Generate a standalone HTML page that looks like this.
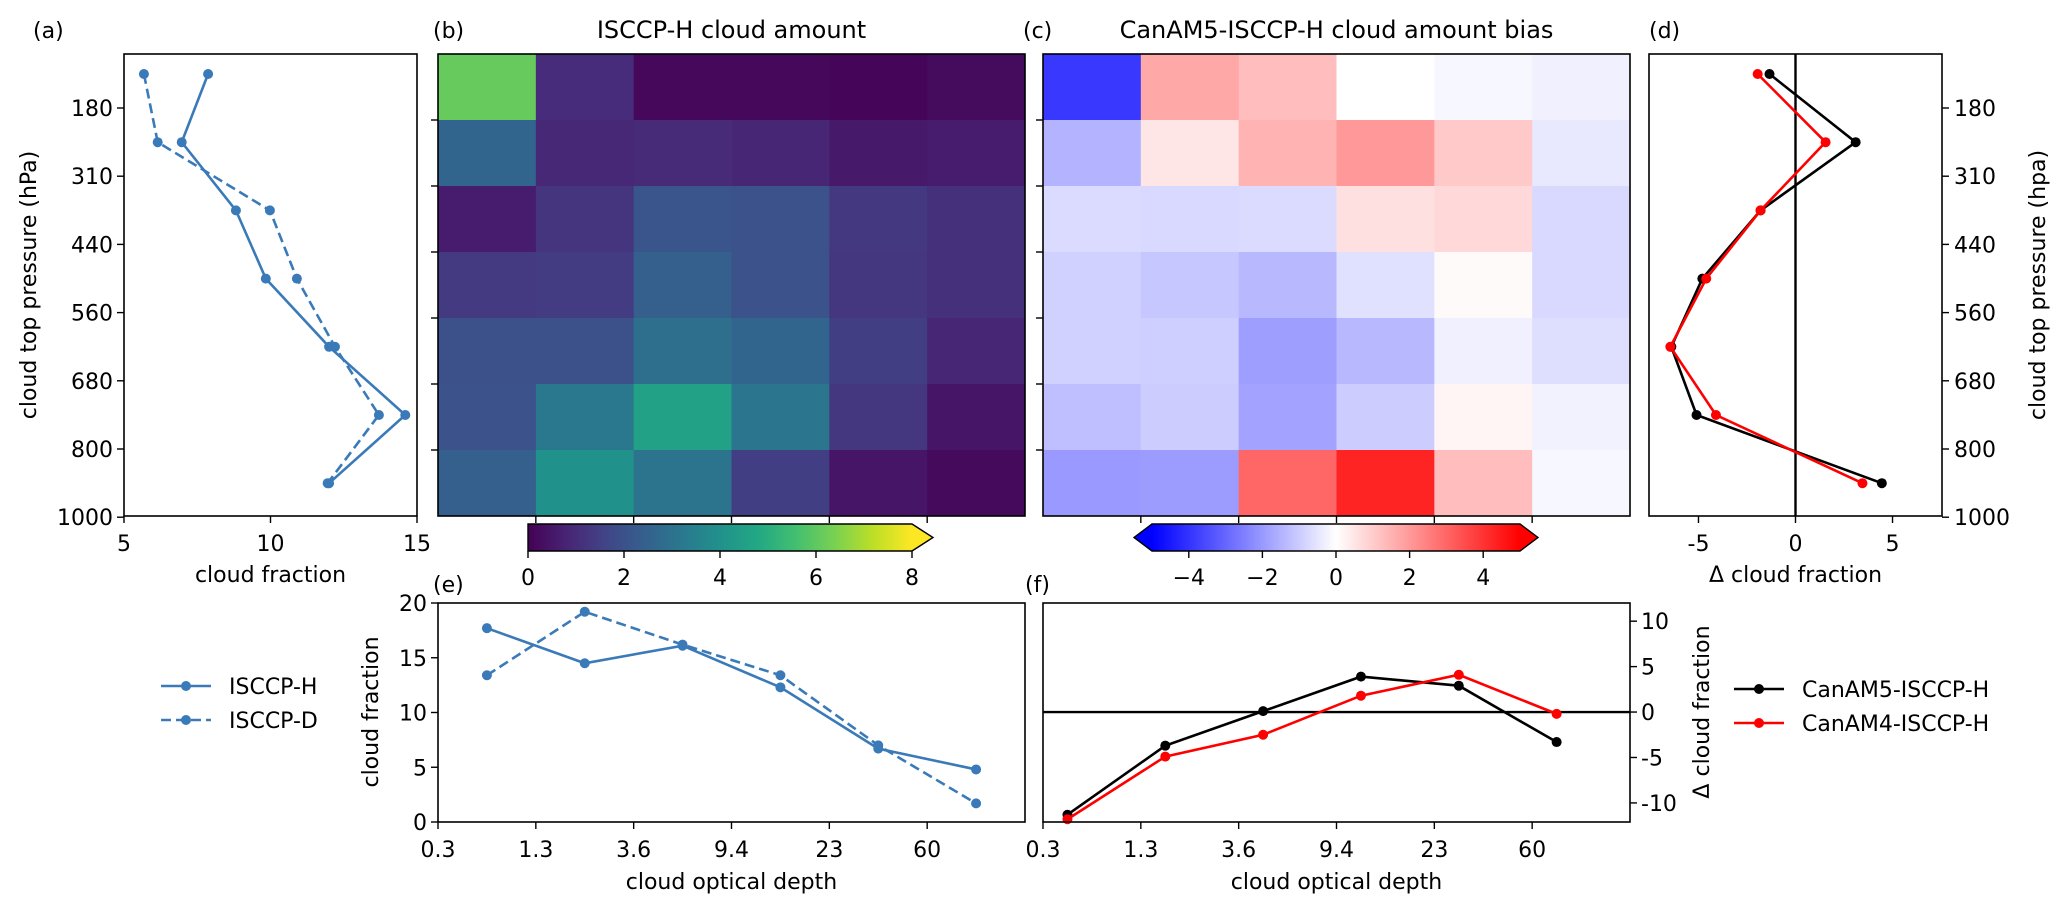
<!DOCTYPE html>
<html><head><meta charset="utf-8">
<style>
html,body{margin:0;padding:0;background:#fff;}
svg{display:block;font-family:"DejaVu Sans","Liberation Sans",sans-serif;}
text{fill:#000;}
</style></head>
<body>
<svg id="fig" width="2067" height="906" viewBox="0 0 2067 906" xmlns="http://www.w3.org/2000/svg">
<defs>
<linearGradient id="gViridis" x1="0" x2="1" y1="0" y2="0">
<stop offset="0" stop-color="#440154"/><stop offset="0.1" stop-color="#482475"/><stop offset="0.2" stop-color="#414487"/><stop offset="0.3" stop-color="#355f8d"/><stop offset="0.4" stop-color="#2a788e"/><stop offset="0.5" stop-color="#21918c"/><stop offset="0.6" stop-color="#22a884"/><stop offset="0.7" stop-color="#44bf70"/><stop offset="0.8" stop-color="#7ad151"/><stop offset="0.9" stop-color="#bddf26"/><stop offset="1" stop-color="#fde725"/>
</linearGradient>
<linearGradient id="gBwr" x1="0" x2="1" y1="0" y2="0">
<stop offset="0" stop-color="#0000ff"/><stop offset="0.5" stop-color="#ffffff"/><stop offset="1" stop-color="#ff0000"/>
</linearGradient>
</defs>
</svg>
<script>
// ---- data ----
const pressureTicks = ["180","310","440","560","680","800","1000"];
const tauTicks = ["0.3","1.3","3.6","9.4","23","60"];
const isccpH_profile = [7.87, 6.97, 8.82, 9.84, 12.0, 14.6, 12.0];
const isccpD_profile = [5.68, 6.15, 9.98, 10.9, 12.2, 13.7, 11.95];
const canam5_profile = [-1.34, 3.1, -1.8, -4.8, -6.4, -5.1, 4.45];
const canam4_profile = [-1.95, 1.55, -1.8, -4.6, -6.45, -4.1, 3.45];
const isccpH_tau = [17.7, 14.5, 16.1, 12.3, 6.7, 4.8];
const isccpD_tau = [13.4, 19.2, 16.2, 13.4, 7.0, 1.7];
const canam5_tau = [-11.3, -3.7, 0.1, 3.9, 2.9, -3.3];
const canam4_tau = [-11.8, -4.9, -2.5, 1.8, 4.1, -0.2];
const amountGrid = [
 [6.1, 1.0, 0.15, 0.15, 0.1, 0.25],
 [2.6, 0.9, 0.95, 0.85, 0.55, 0.6],
 [0.6, 1.2, 2.1, 2.0, 1.3, 1.1],
 [1.35, 1.4, 2.4, 2.0, 1.25, 1.1],
 [1.95, 1.95, 2.9, 2.6, 1.45, 0.85],
 [2.0, 3.2, 4.55, 3.1, 1.25, 0.45],
 [2.4, 4.0, 3.05, 1.45, 0.45, 0.2]
];
const biasGrid = [
 [-3.9, 1.7, 1.3, 0.0, -0.15, -0.3],
 [-1.5, 0.5, 1.5, 2.0, 1.05, -0.45],
 [-0.7, -0.75, -0.7, 0.6, 0.75, -0.75],
 [-0.9, -1.1, -1.4, -0.6, 0.1, -0.75],
 [-0.9, -0.95, -1.9, -1.4, -0.3, -0.65],
 [-1.25, -1.0, -1.8, -1.0, 0.2, -0.25],
 [-2.0, -1.95, 3.0, 4.3, 1.3, -0.15]
];
const viridisTicks = [0,2,4,6,8];
const bwrTicks = [-4,-2,0,2,4];
const fracTicksA = [5,10,15];
const deltaTicksD = [-5,0,5];
const fracTicksE = [0,5,10,15,20];
const deltaTicksF = [-10,-5,0,5,10];

// ---- helpers ----
const NS = "http://www.w3.org/2000/svg";
const svg = document.getElementById('fig');
function mk(tag, attrs, parent){const e=document.createElementNS(NS,tag);for(const k in attrs)e.setAttribute(k,attrs[k]);(parent||svg).appendChild(e);return e;}
function txt(s, x, y, attrs, parent){const e=mk('text',Object.assign({x:x,y:y,'font-size':22},attrs||{}),parent);e.textContent=s;return e;}
const VIR=["#440154","#482475","#414487","#355f8d","#2a788e","#21918c","#22a884","#44bf70","#7ad151","#bddf26","#fde725"];
function hex(c){return [parseInt(c.substr(1,2),16),parseInt(c.substr(3,2),16),parseInt(c.substr(5,2),16)];}
function viridis(t){t=Math.max(0,Math.min(1,t));const f=t*10,i=Math.min(9,Math.floor(f)),r=f-i;const a=hex(VIR[i]),b=hex(VIR[i+1]);return 'rgb('+a.map((v,k)=>Math.round(v+(b[k]-v)*r)).join(',')+')';}
function bwr(v){v=Math.max(-5,Math.min(5,v));let r,g,b;if(v<0){r=g=1+v/5;b=1;}else{r=1;g=b=1-v/5;}return 'rgb('+[r,g,b].map(x=>Math.round(x*255)).join(',')+')';}

const BLUE="#3a7ab8";
// layout
const TOP=54, BOT=516;
const A={l:124,r:417}, D={l:1649,r:1942}, B={l:438,r:1025}, C={l:1043,r:1630};
const E={t:603,b:822,l:438,r:1025}, F={t:603,b:822,l:1043,r:1630};
const rowH=(BOT-TOP)/7;
// profile y: categorical, tick k at 108+68.2k, points at midpoints
function yProf(i){return 108+68.2*i-34;}
function yTickProf(k){return 108+68.2*k;}
function xA(v){return A.l+(v-5)/10*(A.r-A.l);}
function xD(v){return D.l+(v+7.55)/15.1*(D.r-D.l);}
const colW=(B.r-B.l)/6;
function xE(i){return E.l+(i+0.5)*colW;}
function yE(v){return E.b-(v/20)*(E.b-E.t);}
function xF(i){return F.l+(i+0.25)*colW;}
function yF(v){return F.b-((v+12.1)/24.1)*(F.b-F.t);}

function frame(l,t,r,b,name){const e=mk('rect',{x:l,y:t,width:r-l,height:b-t,fill:'none',stroke:'#000','stroke-width':1.6});return e;}
function series(pts,color,dash,name){
  const g=mk('g',{});
  
  
  const p=mk('polyline',{points:pts.map(p=>p.join(',')).join(' '),fill:'none',stroke:color,'stroke-width':2.6,'stroke-dasharray':dash?'10,5':'none'},g);
  
  
  pts.forEach(q=>{const c=mk('circle',{cx:q[0],cy:q[1],r:5,fill:color},g);});
}
function label(s,x,y,name,attrs){const e=txt(s,x,y,attrs);return e;}

// ---- panel a ----
label('(a)',33,38,'panel-a-label');
for(let k=0;k<pressureTicks.length;k++){const y=yTickProf(k);mk('line',{x1:A.l-7,x2:A.l,y1:y,y2:y,stroke:'#000','stroke-width':1.4});const t=label(pressureTicks[k],A.l-11,y+8,'a-ytick-label',{'text-anchor':'end'});}
fracTicksA.forEach(v=>{const x=xA(v);mk('line',{x1:x,x2:x,y1:BOT,y2:BOT+7,stroke:'#000','stroke-width':1.4});label(String(v),x,551,'a-xtick-label',{'text-anchor':'middle'});});
label('cloud fraction',(A.l+A.r)/2,582,'a-x-axis-title',{'text-anchor':'middle'});
label('cloud top pressure (hPa)',0,0,'a-y-axis-title',{'text-anchor':'middle',transform:'translate(36,285) rotate(-90)'});
series(isccpH_profile.map((v,i)=>[xA(v),yProf(i)]),BLUE,false,'isccp-h-profile');
series(isccpD_profile.map((v,i)=>[xA(v),yProf(i)]),BLUE,true,'isccp-d-profile');
frame(A.l,TOP,A.r,BOT,'panel-a-axes');

// ---- heatmaps ----
function heat(P,grid,colorFn,name){
  for(let r=0;r<7;r++)for(let c=0;c<6;c++){
    const e=mk('rect',{x:P.l+c*colW,y:TOP+r*rowH,width:colW+0.5,height:rowH+0.5,fill:colorFn(grid[r][c])});
    
    
  }
  for(let k=1;k<7;k++){const y=TOP+k*rowH;mk('line',{x1:P.l-7,x2:P.l,y1:y,y2:y,stroke:'#000','stroke-width':1.4});}
  for(let k=1;k<6;k++){const x=P.l+k*colW;mk('line',{x1:x,x2:x,y1:BOT,y2:BOT+7,stroke:'#000','stroke-width':1.4});}
  frame(P.l,TOP,P.r,BOT,name+'-axes');
}
label('(b)',433,38,'panel-b-label');
label('ISCCP-H cloud amount',(B.l+B.r)/2,38,'panel-b-title',{'text-anchor':'middle','font-size':24});
heat(B,amountGrid,v=>viridis(v/8),'amount-heatmap');
label('(c)',1023,38,'panel-c-label');
label('CanAM5-ISCCP-H cloud amount bias',(C.l+C.r)/2,38,'panel-c-title',{'text-anchor':'middle','font-size':24});
heat(C,biasGrid,bwr,'bias-heatmap');

// colorbars
(function(){
  const l=528,r=912,t=524,b=551;
  const g=mk('g',{});
  mk('rect',{x:l,y:t,width:r-l,height:b-t,fill:'url(#gViridis)'},g);
  mk('polygon',{points:`${r},${t} ${r+21},${(t+b)/2} ${r},${b}`,fill:'#fde725'},g);
  mk('polygon',{points:`${l},${t} ${r},${t} ${r+21},${(t+b)/2} ${r},${b} ${l},${b}`,fill:'none',stroke:'#000','stroke-width':1.4},g);
  viridisTicks.forEach(v=>{const x=l+v/8*(r-l);mk('line',{x1:x,x2:x,y1:b,y2:b+7,stroke:'#000','stroke-width':1.4},g);label(String(v),x,585,'viridis-tick-label',{'text-anchor':'middle'});});
})();
(function(){
  const l=1152,r=1520,t=524,b=551,m=(t+b)/2;
  const g=mk('g',{});
  mk('rect',{x:l,y:t,width:r-l,height:b-t,fill:'url(#gBwr)'},g);
  mk('polygon',{points:`${l},${t} ${l-18},${m} ${l},${b}`,fill:'#0000ff'},g);
  mk('polygon',{points:`${r},${t} ${r+18},${m} ${r},${b}`,fill:'#ff0000'},g);
  mk('polygon',{points:`${l},${t} ${r},${t} ${r+18},${m} ${r},${b} ${l},${b} ${l-18},${m}`,fill:'none',stroke:'#000','stroke-width':1.4},g);
  bwrTicks.forEach(v=>{const x=(l+r)/2+v/10*(r-l);mk('line',{x1:x,x2:x,y1:b,y2:b+7,stroke:'#000','stroke-width':1.4},g);label(v<0?'\u2212'+(-v):String(v),x,585,'bwr-tick-label',{'text-anchor':'middle'});});
})();

// ---- panel d ----
label('(d)',1649,38,'panel-d-label');
mk('line',{x1:xD(0),x2:xD(0),y1:TOP,y2:BOT,stroke:'#000','stroke-width':2.4});
series(canam5_profile.map((v,i)=>[xD(v),yProf(i)]),'#000',false,'canam5-profile');
series(canam4_profile.map((v,i)=>[xD(v),yProf(i)]),'#ff0000',false,'canam4-profile');
for(let k=0;k<pressureTicks.length;k++){const y=yTickProf(k);mk('line',{x1:D.r,x2:D.r+7,y1:y,y2:y,stroke:'#000','stroke-width':1.4});label(pressureTicks[k],D.r+12,y+8,'d-ytick-label');}
deltaTicksD.forEach(v=>{const x=xD(v);mk('line',{x1:x,x2:x,y1:BOT,y2:BOT+7,stroke:'#000','stroke-width':1.4});label(String(v),x,551,'d-xtick-label',{'text-anchor':'middle'});});
label('\u0394 cloud fraction',xD(0),582,'d-x-axis-title',{'text-anchor':'middle'});
label('cloud top pressure (hpa)',0,0,'d-y-axis-title',{'text-anchor':'middle',transform:'translate(2045,285) rotate(-90)'});
frame(D.l,TOP,D.r,BOT,'panel-d-axes');

// ---- panel e ----
label('(e)',433,592,'panel-e-label');
fracTicksE.forEach(v=>{const y=yE(v);mk('line',{x1:E.l-7,x2:E.l,y1:y,y2:y,stroke:'#000','stroke-width':1.4});label(String(v),E.l-11,y+8,'e-ytick-label',{'text-anchor':'end'});});
tauTicks.forEach((s,i)=>{const x=E.l+i*colW;mk('line',{x1:x,x2:x,y1:E.b,y2:E.b+7,stroke:'#000','stroke-width':1.4});label(s,x,857,'e-xtick-label',{'text-anchor':'middle'});});
label('cloud optical depth',(E.l+E.r)/2,889,'e-x-axis-title',{'text-anchor':'middle'});
label('cloud fraction',0,0,'e-y-axis-title',{'text-anchor':'middle',transform:'translate(378,712) rotate(-90)'});
series(isccpH_tau.map((v,i)=>[xE(i),yE(v)]),BLUE,false,'isccp-h-tau');
series(isccpD_tau.map((v,i)=>[xE(i),yE(v)]),BLUE,true,'isccp-d-tau');
frame(E.l,E.t,E.r,E.b,'panel-e-axes');

// ---- panel f ----
label('(f)',1025,592,'panel-f-label');
mk('line',{x1:F.l,x2:F.r,y1:yF(0),y2:yF(0),stroke:'#000','stroke-width':2.4});
series(canam5_tau.map((v,i)=>[xF(i),yF(v)]),'#000',false,'canam5-tau');
series(canam4_tau.map((v,i)=>[xF(i),yF(v)]),'#ff0000',false,'canam4-tau');
deltaTicksF.forEach(v=>{const y=yF(v);mk('line',{x1:F.r,x2:F.r+7,y1:y,y2:y,stroke:'#000','stroke-width':1.4});label(String(v),F.r+11,y+8,'f-ytick-label');});
tauTicks.forEach((s,i)=>{const x=F.l+i*colW;mk('line',{x1:x,x2:x,y1:F.b,y2:F.b+7,stroke:'#000','stroke-width':1.4});label(s,x,857,'f-xtick-label',{'text-anchor':'middle'});});
label('cloud optical depth',(F.l+F.r)/2,889,'f-x-axis-title',{'text-anchor':'middle'});
label('\u0394 cloud fraction',0,0,'f-y-axis-title',{'text-anchor':'middle',transform:'translate(1709,712) rotate(-90)'});
frame(F.l,F.t,F.r,F.b,'panel-f-axes');

// ---- legends ----
function legendEntry(x1,x2,y,color,dash,s,name){
  const g=mk('g',{});
  
  
  mk('line',{x1:x1,x2:x2,y1:y,y2:y,stroke:color,'stroke-width':2.6,'stroke-dasharray':dash?'10,5':'none'},g);
  mk('circle',{cx:(x1+x2)/2,cy:y,r:5,fill:color},g);
  txt(s,x2+18,y+8,{},g);
}
legendEntry(161,211,686,BLUE,false,'ISCCP-H','legend-entry-isccp-h');
legendEntry(161,211,720,BLUE,true,'ISCCP-D','legend-entry-isccp-d');
legendEntry(1734,1784,689,'#000',false,'CanAM5-ISCCP-H','legend-entry-canam5');
legendEntry(1734,1784,723,'#ff0000',false,'CanAM4-ISCCP-H','legend-entry-canam4');
</script>
</body></html>
